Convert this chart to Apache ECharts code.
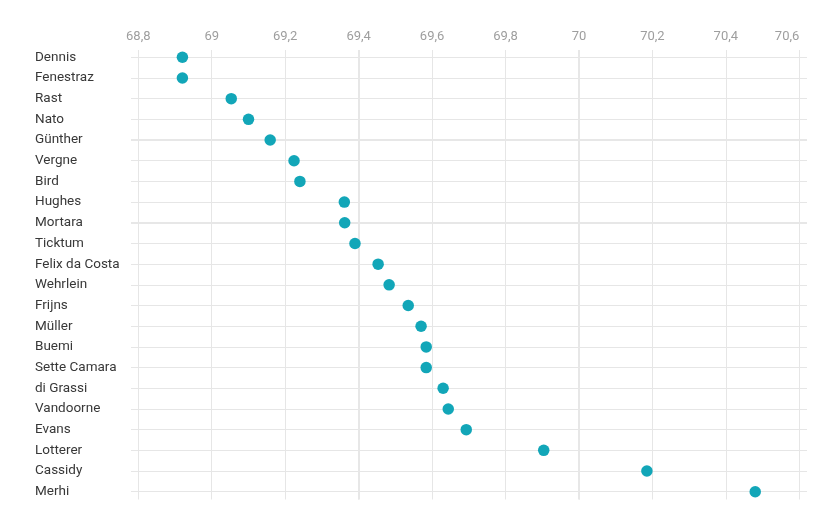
<!DOCTYPE html>
<html>
<head>
<meta charset="utf-8">
<script src="https://cdn.jsdelivr.net/npm/echarts@6/dist/echarts.min.js"></script>
<style>
html,body{margin:0;padding:0;background:#fff;}
#chart{width:829px;height:519px;}
</style>
</head>
<body>
<div id="chart"></div>
<script>
const drivers = ['Dennis','Fenestraz','Rast','Nato','Günther','Vergne','Bird','Hughes','Mortara','Ticktum','Felix da Costa','Wehrlein','Frijns','Müller','Buemi','Sette Camara','di Grassi','Vandoorne','Evans','Lotterer','Cassidy','Merhi'];
const times = [68.92,68.92,69.053,69.10,69.159,69.224,69.24,69.361,69.362,69.39,69.453,69.483,69.535,69.57,69.584,69.584,69.63,69.644,69.693,69.904,70.185,70.48];
const emphasisRows = ['Günther','Mortara'];
const emphasisTicks = [69.4, 70];

const chart = echarts.init(document.getElementById('chart'), null, {renderer:'canvas'});
const FONT = 'Roboto, "Noto Sans", sans-serif';
const thick = {color:'#e7e7e7', width:2, type:'solid'};
chart.setOption({
  animation:false,
  backgroundColor:'#ffffff',
  grid:[
    {left:131, width:676, top:57.3, height:434.4},
    {left:138.3, width:661, top:50, height:449.5}
  ],
  xAxis:[
    {gridIndex:0, type:'value', min:68.78, max:70.621, show:false},
    {gridIndex:1, type:'value', min:68.8, max:70.6, interval:0.2, position:'top',
     axisLine:{show:false}, axisTick:{show:false},
     axisLabel:{color:'#9e9e9e', fontSize:13, fontFamily:FONT, margin:7, alignMaxLabel:'right',
       formatter:v=>String(Math.round(v*10)/10).replace('.',',')},
     splitLine:{show:true, lineStyle:{color:'#e6e6e6', width:1}}}
  ],
  yAxis:[
    {gridIndex:0, type:'category', data:drivers, inverse:true, boundaryGap:false,
     axisLine:{show:false}, axisTick:{show:false},
     axisLabel:{color:'#383838', fontSize:13.5, fontFamily:FONT, align:'left', margin:96, interval:0, padding:[2,0,0,0]},
     splitLine:{show:true, interval:0, lineStyle:{color:'#e6e6e6', width:1}}},
    {gridIndex:1, type:'value', min:0, max:1, show:false}
  ],
  series:[
    {type:'scatter', xAxisIndex:1, yAxisIndex:1, data:[], silent:true, z:1,
     markLine:{symbol:'none', silent:true, label:{show:false}, lineStyle:thick,
       data:emphasisTicks.map(v=>({xAxis:v}))}},
    {type:'scatter', xAxisIndex:0, yAxisIndex:0, data:[], silent:true, z:1,
     markLine:{symbol:'none', silent:true, label:{show:false}, lineStyle:thick,
       data:emphasisRows.map(r=>({yAxis:r}))}},
    {type:'scatter', xAxisIndex:0, yAxisIndex:0, z:5,
     data:times.map((t,i)=>[t, drivers[i]]),
     symbolSize:11.5, itemStyle:{color:'#12a6b8', opacity:1}}
  ]
});
</script>
</body>
</html>
